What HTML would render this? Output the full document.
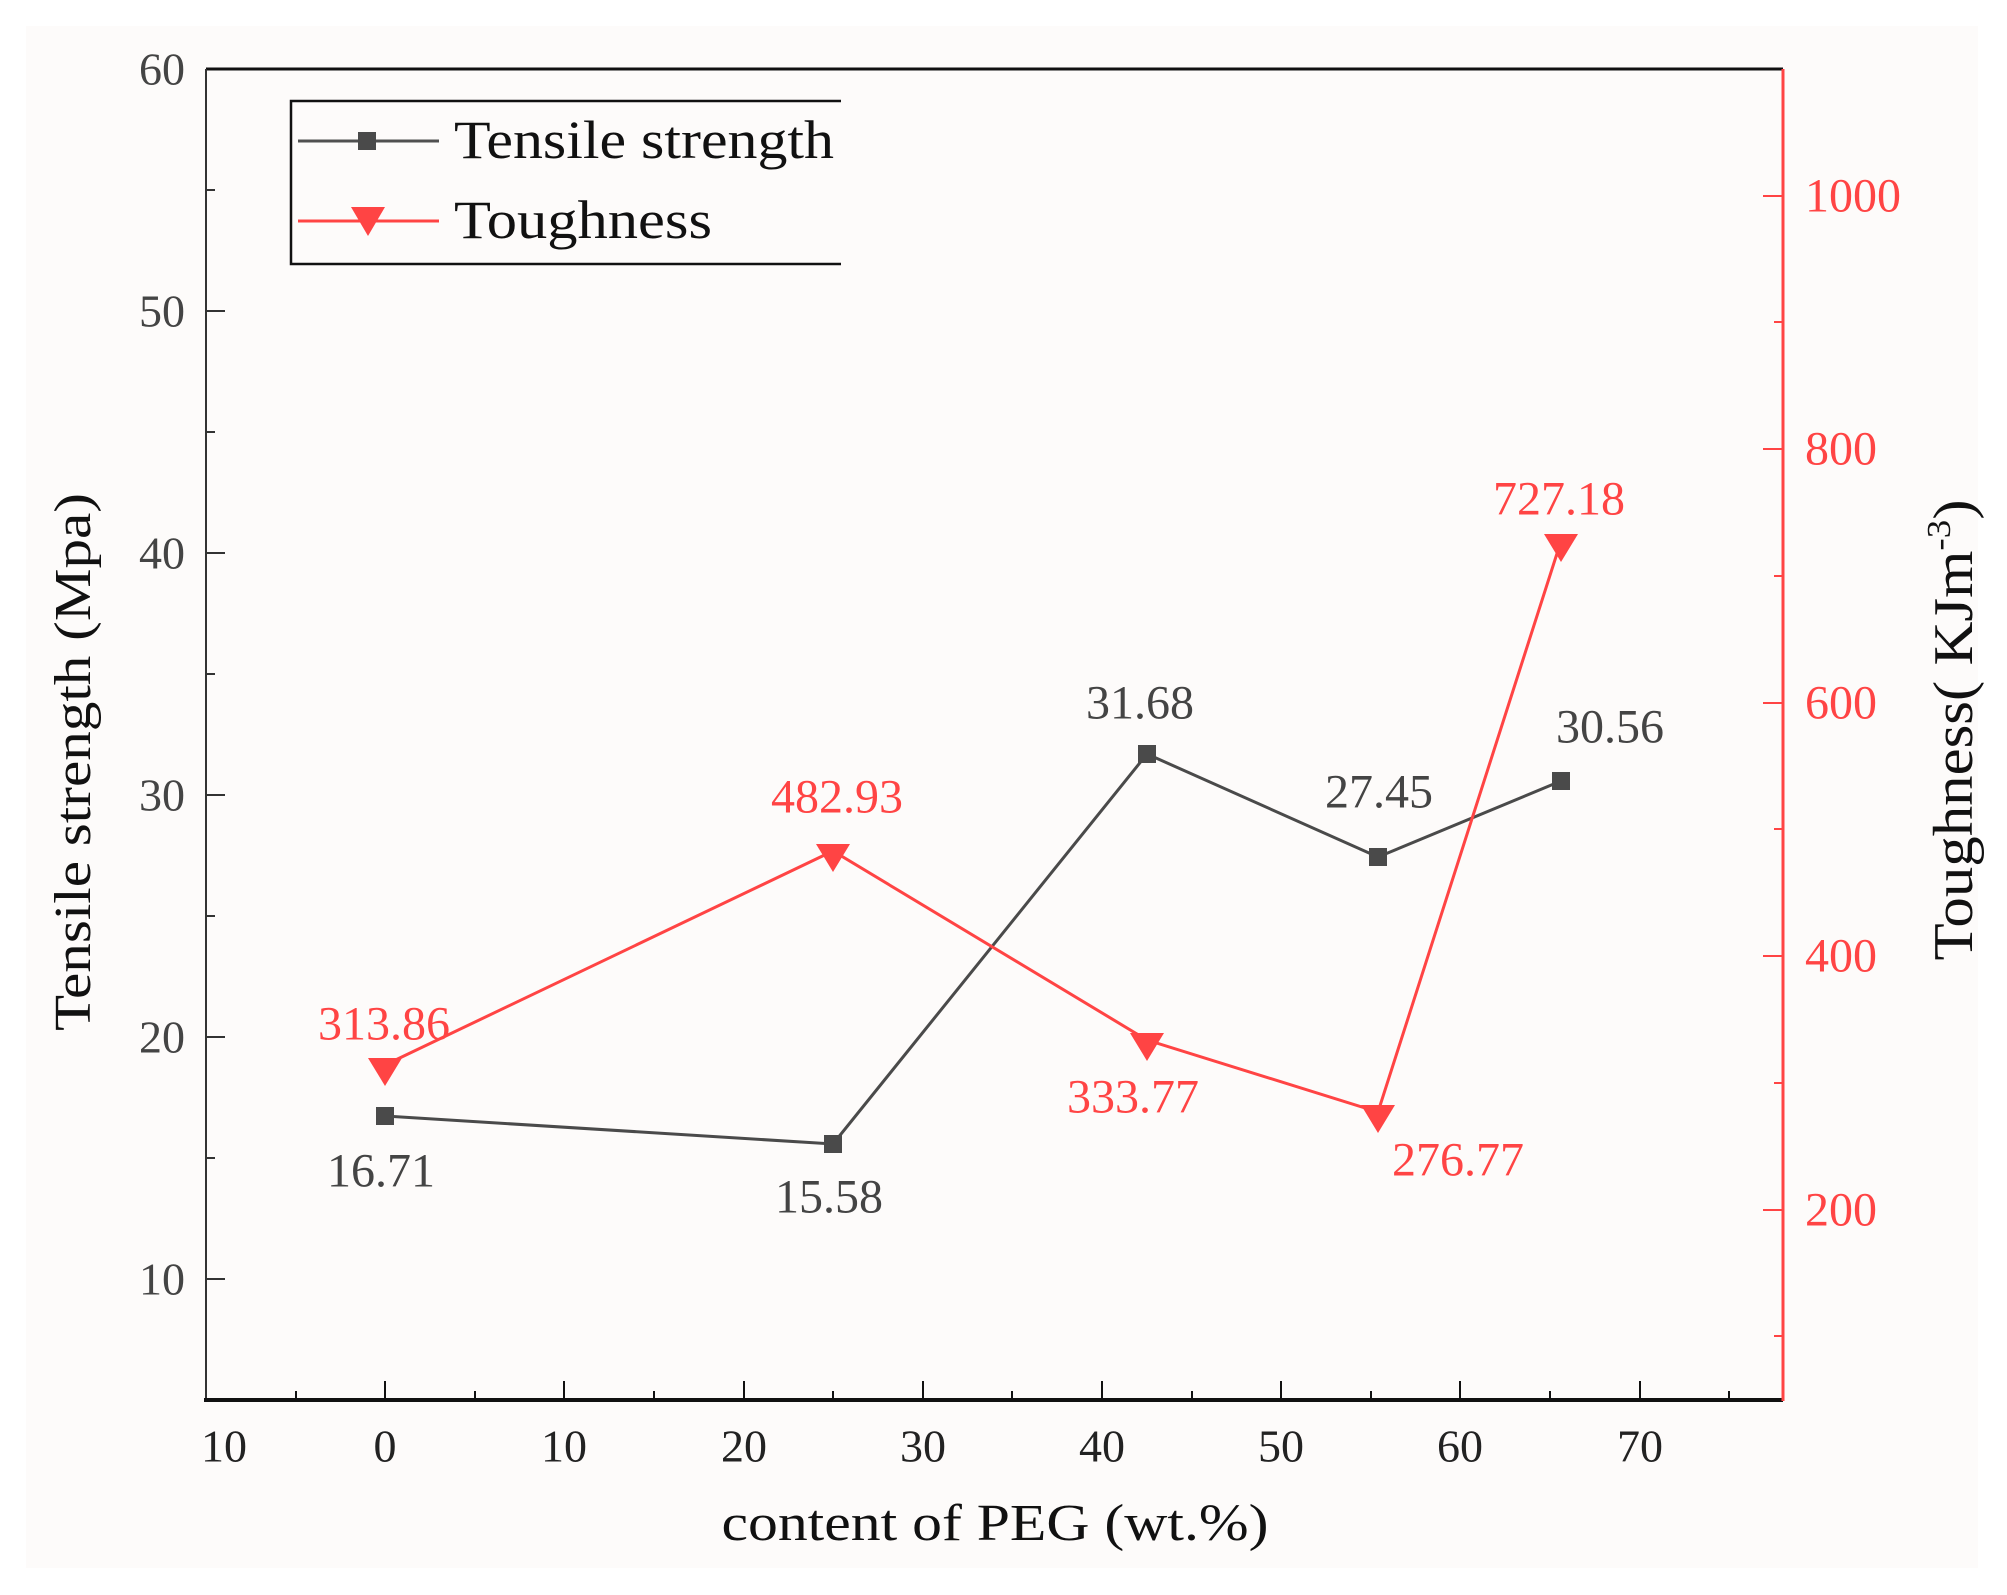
<!DOCTYPE html>
<html><head><meta charset="utf-8"><style>
html,body{margin:0;padding:0;background:#fff;}
svg{display:block;}
text{font-family:"Liberation Serif",serif;}
</style></head><body>
<svg width="2007" height="1595" viewBox="0 0 2007 1595" xmlns="http://www.w3.org/2000/svg">
<rect x="26" y="26" width="1952" height="1542" fill="#fdfbfa"/>
<!-- axes -->
<line x1="206" y1="69" x2="1783" y2="69" stroke="#111" stroke-width="3"/>
<line x1="206" y1="69" x2="206" y2="1401" stroke="#333" stroke-width="2"/>
<line x1="204" y1="1400" x2="1783" y2="1400" stroke="#111" stroke-width="4"/>
<line x1="1783" y1="69" x2="1783" y2="1401" stroke="#ff4444" stroke-width="3"/>
<g stroke="#333" stroke-width="2">
<line x1="206" y1="311" x2="225" y2="311"/><line x1="206" y1="553" x2="225" y2="553"/>
<line x1="206" y1="795" x2="225" y2="795"/><line x1="206" y1="1037" x2="225" y2="1037"/>
<line x1="206" y1="1279" x2="225" y2="1279"/>
<line x1="206" y1="190" x2="215" y2="190"/><line x1="206" y1="432" x2="215" y2="432"/>
<line x1="206" y1="674" x2="215" y2="674"/><line x1="206" y1="916" x2="215" y2="916"/>
<line x1="206" y1="1158" x2="215" y2="1158"/>
</g>
<g stroke="#111" stroke-width="2">
<line x1="385" y1="1400" x2="385" y2="1381"/><line x1="564" y1="1400" x2="564" y2="1381"/>
<line x1="744" y1="1400" x2="744" y2="1381"/><line x1="923" y1="1400" x2="923" y2="1381"/>
<line x1="1102" y1="1400" x2="1102" y2="1381"/><line x1="1281" y1="1400" x2="1281" y2="1381"/>
<line x1="1460" y1="1400" x2="1460" y2="1381"/><line x1="1640" y1="1400" x2="1640" y2="1381"/>
<line x1="296" y1="1400" x2="296" y2="1391"/><line x1="475" y1="1400" x2="475" y2="1391"/>
<line x1="654" y1="1400" x2="654" y2="1391"/><line x1="833" y1="1400" x2="833" y2="1391"/>
<line x1="1012" y1="1400" x2="1012" y2="1391"/><line x1="1192" y1="1400" x2="1192" y2="1391"/>
<line x1="1371" y1="1400" x2="1371" y2="1391"/><line x1="1550" y1="1400" x2="1550" y2="1391"/>
<line x1="1729" y1="1400" x2="1729" y2="1391"/>
</g>
<g stroke="#ff4444" stroke-width="2">
<line x1="1763" y1="196" x2="1783" y2="196"/><line x1="1763" y1="449" x2="1783" y2="449"/>
<line x1="1763" y1="703" x2="1783" y2="703"/><line x1="1763" y1="956" x2="1783" y2="956"/>
<line x1="1763" y1="1210" x2="1783" y2="1210"/>
<line x1="1774" y1="322" x2="1783" y2="322"/><line x1="1774" y1="576" x2="1783" y2="576"/>
<line x1="1774" y1="829" x2="1783" y2="829"/><line x1="1774" y1="1083" x2="1783" y2="1083"/>
<line x1="1774" y1="1336" x2="1783" y2="1336"/>
</g>
<!-- left tick labels -->
<g fill="#444" font-size="46" text-anchor="end" dominant-baseline="central">
<text x="185" y="69">60</text><text x="185" y="311">50</text><text x="185" y="553">40</text>
<text x="185" y="795">30</text><text x="185" y="1037">20</text><text x="185" y="1279">10</text>
</g>
<!-- right tick labels -->
<g fill="#ff4444" font-size="48" text-anchor="start" dominant-baseline="central">
<text x="1805" y="196">1000</text><text x="1805" y="449">800</text><text x="1805" y="703">600</text>
<text x="1805" y="956">400</text><text x="1805" y="1210">200</text>
</g>
<!-- x tick labels -->
<g fill="#222" font-size="46" text-anchor="middle" dominant-baseline="central">
<text x="224" y="1446">10</text><text x="385" y="1446">0</text><text x="564" y="1446">10</text>
<text x="744" y="1446">20</text><text x="923" y="1446">30</text><text x="1102" y="1446">40</text>
<text x="1281" y="1446">50</text><text x="1460" y="1446">60</text><text x="1640" y="1446">70</text>
</g>
<!-- axis titles -->
<text x="995" y="1540" font-size="52" fill="#111" text-anchor="middle" textLength="547" lengthAdjust="spacingAndGlyphs">content of PEG (wt.%)</text>
<text transform="translate(90,762) rotate(-90)" font-size="52" fill="#111" text-anchor="middle" textLength="538" lengthAdjust="spacingAndGlyphs">Tensile strength (Mpa)</text>
<text transform="translate(1972,730) rotate(-90)" font-size="56" fill="#111" text-anchor="middle" textLength="461" lengthAdjust="spacingAndGlyphs">Toughness( KJm<tspan font-size="34" dy="-22">-3</tspan><tspan dy="22">)</tspan></text>
<!-- legend -->
<polyline points="841,101 291,101 291,264 841,264" fill="none" stroke="#111" stroke-width="2.5"/>
<line x1="298" y1="141" x2="439" y2="141" stroke="#505050" stroke-width="3"/>
<rect x="358" y="132" width="18" height="18" fill="#4a4a4a"/>
<line x1="298" y1="221" x2="439" y2="221" stroke="#ff4444" stroke-width="3"/>
<polygon points="351,207 385,207 368,236" fill="#ff4444"/>
<text x="454" y="158" font-size="54" fill="#111" textLength="380" lengthAdjust="spacingAndGlyphs">Tensile strength</text>
<text x="454" y="238" font-size="54" fill="#111" textLength="258" lengthAdjust="spacingAndGlyphs">Toughness</text>
<!-- series -->
<polyline points="385,1116 833,1144 1147,754 1378,857 1561,781" fill="none" stroke="#4a4a4a" stroke-width="3"/>
<polyline points="385,1065 833,851 1147,1040 1378,1112 1561,541" fill="none" stroke="#ff4444" stroke-width="3"/>
<g fill="#4a4a4a">
<rect x="376" y="1107" width="18" height="18"/><rect x="824" y="1135" width="18" height="18"/>
<rect x="1138" y="745" width="18" height="18"/><rect x="1369" y="848" width="18" height="18"/>
<rect x="1552" y="772" width="18" height="18"/>
</g>
<g fill="#ff4444">
<polygon points="368,1058 402,1058 385,1086"/><polygon points="816,844 850,844 833,872"/>
<polygon points="1130,1033 1164,1033 1147,1061"/><polygon points="1361,1105 1395,1105 1378,1133"/>
<polygon points="1544,534 1578,534 1561,562"/>
</g>
<!-- data labels -->
<g font-size="48" text-anchor="middle" dominant-baseline="central" fill="#444">
<text x="381" y="1171">16.71</text><text x="829" y="1197">15.58</text><text x="1140" y="703">31.68</text>
<text x="1379" y="792">27.45</text><text x="1610" y="727">30.56</text>
</g>
<g font-size="48" text-anchor="middle" dominant-baseline="central" fill="#ff4444">
<text x="384" y="1024">313.86</text><text x="837" y="797">482.93</text><text x="1133" y="1097">333.77</text>
<text x="1458" y="1160">276.77</text><text x="1559" y="499">727.18</text>
</g>
</svg>
</body></html>
